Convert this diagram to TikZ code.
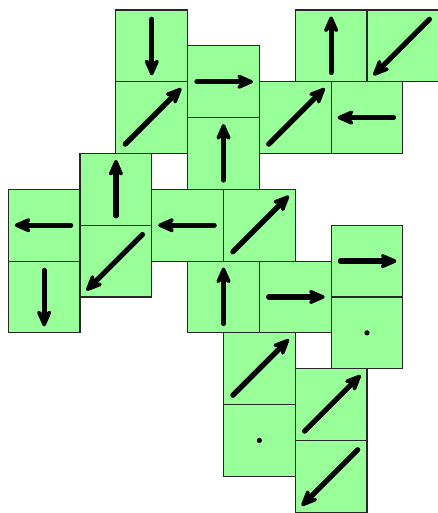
\documentclass[tikz,border=0pt]{standalone}
\usetikzlibrary{arrows.meta,calc}
\definecolor{cellgreen}{RGB}{153,255,153}
\definecolor{cellborder}{RGB}{40,40,40}
\tikzset{
  cell/.style={draw=cellborder,fill=cellgreen,line width=1.1pt,minimum size=71.74pt,inner sep=0pt,outer sep=0pt},
  arrowline/.style={line width=5.2pt,line cap=round,-{Stealth[length=23pt,width=20pt,inset=9pt,round]}},
  dotmark/.style={fill=black,draw=none}
}
\newcommand\cellarrow[3]{\draw[arrowline] ($(#1)+({-0.74*(#2)},{-0.74*(#3)})$) -- ($(#1)+({0.82*(#2)},{0.82*(#3)})$);}
\begin{document}
\begin{tikzpicture}
\useasboundingbox (0pt,0pt) rectangle (437pt,-513pt);
\begin{scope}[shift={(8.3pt,-10pt)},x=35.87pt,y=-35.87pt]
\node[cell] (A) at (4,1) {};
\node[cell] (B) at (4,3) {};
\node[cell] (C) at (6,2) {};
\node[cell] (D) at (6,4) {};
\node[cell] (E) at (3,5) {};
\node[cell] (F) at (1,6) {};
\node[cell] (F2) at (1,8) {};
\node[cell] (G) at (3,7) {};
\node[cell] (H) at (5,6) {};
\node[cell] (I) at (9,1) {};
\node[cell] (J) at (11,1) {};
\node[cell] (K) at (8,3) {};
\node[cell] (L) at (10,3) {};
\node[cell] (M) at (7,6) {};
\node[cell] (N) at (10,7) {};
\node[cell] (O) at (6,8) {};
\node[cell] (P) at (8,8) {};
\node[cell] (Q) at (10,9) {};
\node[cell] (R) at (7,10) {};
\node[cell] (S) at (7,12) {};
\node[cell] (T) at (9,11) {};
\node[cell] (U) at (9,13) {};
\cellarrow{A}{0}{1}
\cellarrow{B}{1}{-1}
\cellarrow{C}{1}{0}
\cellarrow{D}{0}{-1}
\cellarrow{E}{0}{-1}
\cellarrow{F}{-1}{0}
\cellarrow{F2}{0}{1}
\cellarrow{G}{-1}{1}
\cellarrow{H}{-1}{0}
\cellarrow{I}{0}{-1}
\cellarrow{J}{-1}{1}
\cellarrow{K}{1}{-1}
\cellarrow{L}{-1}{0}
\cellarrow{M}{1}{-1}
\cellarrow{N}{1}{0}
\cellarrow{O}{0}{-1}
\cellarrow{P}{1}{0}
\fill[dotmark] (Q) circle (2.6pt);
\cellarrow{R}{1}{-1}
\fill[dotmark] (S) circle (2.6pt);
\cellarrow{T}{1}{-1}
\cellarrow{U}{-1}{1}
\end{scope}
\end{tikzpicture}
\end{document}
